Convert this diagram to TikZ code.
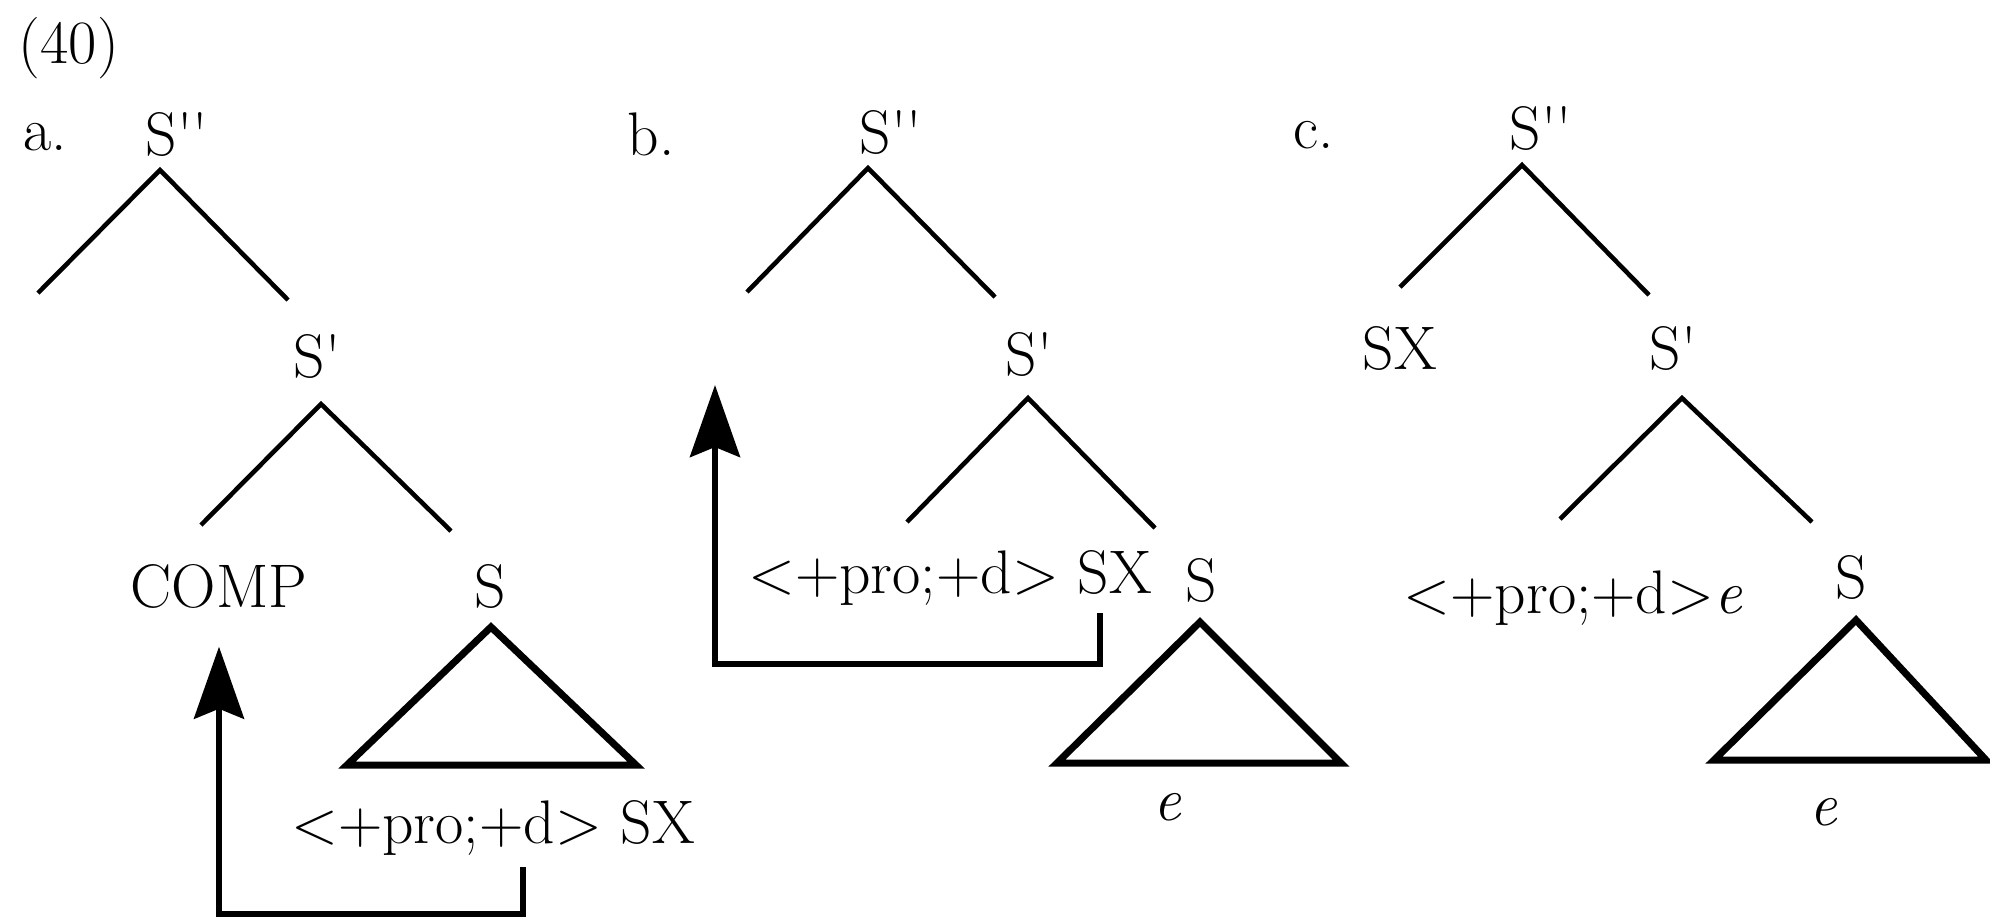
\documentclass[tikz,border=0pt]{standalone}
\usepackage{fontspec}
\usetikzlibrary{arrows.meta}

\newcommand{\pr}{\textquotesingle}

\begin{document}
\begin{tikzpicture}[
        x=0.01cm, y=-0.01cm,
        lbl/.style={inner sep=0pt, anchor=base, font=\fontsize{17.5}{21}\selectfont},
        branch/.style={line width=1.3pt},
        tri/.style={line width=2pt, line join=miter},
        mv/.style={-{Stealth[length=7.2mm, width=5mm, inset=1mm]}, line width=1.6pt}
    ]
        \useasboundingbox (0,0) rectangle (1990,920);

        % Example number and item labels
        \node[lbl] (num) at (69,63) {(40)};
        \node[lbl] (itemA) at (45,150) {a.};
        \node[lbl] (itemB) at (651,155) {b.};
        \node[lbl] (itemC) at (1314,148) {c.};

        % Tree a
        \node[lbl] (aSpp) at (177,155) {S\pr\pr};
        \node[lbl] (aSp) at (317,377) {S\pr};
        \node[lbl] (aComp) at (219,607) {COMP};
        \node[lbl] (aS) at (490,607) {S};
        \node[lbl] (aSX) at (493,843) {<+pro;+d> SX};
        \coordinate (aTop) at (160,170);
        \coordinate (aL) at (38,293);
        \coordinate (aR) at (288,300);
        \coordinate (aMid) at (321,404);
        \coordinate (aML) at (201,525);
        \coordinate (aMR) at (451,531);
        \coordinate (aTri) at (491,627);
        \draw[branch] (aL) -- (aTop) -- (aR);
        \draw[branch] (aML) -- (aMid) -- (aMR);
        \draw[tri] (aTri) -- (347,765) -- (636,765) -- cycle;

        % Tree b
        \node[lbl] (bSpp) at (891,153) {S\pr\pr};
        \node[lbl] (bSp) at (1029,375) {S\pr};
        \node[lbl] (bSX) at (950,593) {<+pro;+d> SX};
        \node[lbl] (bS) at (1201,601) {S};
        \node[lbl] (bE) at (1168,820) {\textit{e}};
        \coordinate (bTop) at (868,168);
        \coordinate (bL) at (747,292);
        \coordinate (bR) at (995,297);
        \coordinate (bMid) at (1028,398);
        \coordinate (bML) at (907,522);
        \coordinate (bMR) at (1155,528);
        \coordinate (bTri) at (1200,622);
        \draw[branch] (bL) -- (bTop) -- (bR);
        \draw[branch] (bML) -- (bMid) -- (bMR);
        \draw[tri] (bTri) -- (1057,763) -- (1341,763) -- cycle;

        % Tree c
        \node[lbl] (cSpp) at (1541,149) {S\pr\pr};
        \node[lbl] (cSX) at (1400,369) {SX};
        \node[lbl] (cSp) at (1673,369) {S\pr};
        \node[lbl] (cTrace) at (1573,613) {<+pro;+d>\textit{e}};
        \node[lbl] (cS) at (1851,598) {S};
        \node[lbl] (cE) at (1824,825) {\textit{e}};
        \coordinate (cTop) at (1522,165);
        \coordinate (cL) at (1400,287);
        \coordinate (cR) at (1649,295);
        \coordinate (cMid) at (1682,398);
        \coordinate (cML) at (1560,519);
        \coordinate (cMR) at (1812,522);
        \coordinate (cTri) at (1856,620);
        \draw[branch] (cL) -- (cTop) -- (cR);
        \draw[branch] (cML) -- (cMid) -- (cMR);
        \draw[tri] (cTri) -- (1714,760) -- (1986,760) -- cycle;

        % Movement arrows
        \coordinate (aFrom) at (523,867);
        \coordinate (bFrom) at (1100,613);
        \coordinate (bTo) at (715,385);
        \draw[mv] (aFrom) -- ++(0,47) -| ([yshift=-0.38cm]aComp.south);
        \draw[mv] (bFrom) -- ++(0,51) -| (bTo);

    \end{tikzpicture}
\end{document}
